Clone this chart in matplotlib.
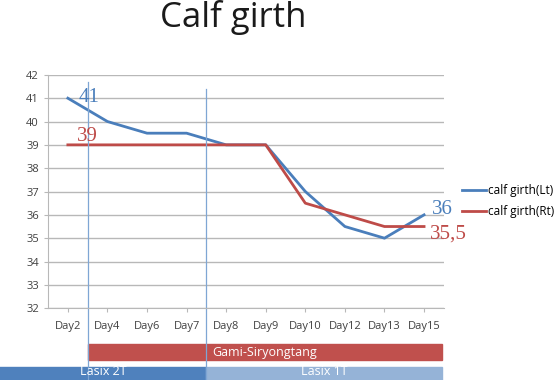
import matplotlib
matplotlib.use("Agg")
import matplotlib.pyplot as plt
import matplotlib.transforms as mtransforms

plt.rcParams['font.family'] = ['Open Sans', 'DejaVu Sans']

# data
days = ['Day2', 'Day4', 'Day6', 'Day7', 'Day8', 'Day9', 'Day10', 'Day12', 'Day13', 'Day15']
girth_lt = [41, 40, 39.5, 39.5, 39, 39, 37, 35.5, 35, 36]
girth_rt = [39, 39, 39, 39, 39, 39, 36.5, 36, 35.5, 35.5]
y_ticks = list(range(32, 43))

# treatment periods (start/end as category boundaries)
herb_label = 'Gami-Siryongtang'
herb_span = (0.5, 9.45)
lasix_labels = ['Lasix 2T', 'Lasix 1T']
lasix_spans = [(-2.0, 3.5), (3.5, 9.45)]
marks = [0.5, 3.5]

blue = '#4a7ebb'
red = '#be4b48'
serif = ['Liberation Serif', 'DejaVu Serif']

fig = plt.figure(figsize=(5.59, 3.80), dpi=100)
ax = fig.add_axes([0.086, 0.189, 0.708, 0.614])

x = list(range(len(days)))
ax.plot(x, girth_lt, color=blue, lw=2, label='calf girth(Lt)')
ax.plot(x, girth_rt, color=red, lw=2, label='calf girth(Rt)')

ax.set_xlim(-0.5, len(days) - 0.5)
ax.set_ylim(32, 42)
ax.set_yticks(y_ticks)
ax.set_xticks(x)
ax.set_xticklabels(days)
ax.yaxis.grid(True, color='#b8b8b8', lw=1)
ax.set_axisbelow(True)
for s in ['top', 'right']:
    ax.spines[s].set_visible(False)
for s in ['left', 'bottom']:
    ax.spines[s].set_color('#b8b8b8')
ax.tick_params(axis='both', labelsize=8, colors='#b8b8b8', labelcolor='#404040', length=3)
ax.tick_params(axis='x', pad=6)

# value labels
ax.text(0.26, 41.05, str(girth_lt[0]), color=blue, fontsize=15, family=serif, va='center', ha='left')
ax.text(0.24, 39.35, str(girth_rt[0]), color=red, fontsize=15, family=serif, va='center', ha='left')
ax.text(9.2, 36.25, str(girth_lt[-1]), color=blue, fontsize=15, family=serif, va='center', ha='left')
ax.text(9.15, 35.18, str(girth_rt[-1]).replace('.', ','), color=red, fontsize=15, family=serif, va='center', ha='left')

# treatment bars under the chart
trans = mtransforms.blended_transform_factory(ax.transData, ax.transAxes)
ax.add_patch(plt.Rectangle((herb_span[0], -0.223), herb_span[1] - herb_span[0], 0.068,
                           transform=trans, color='#c0504d', clip_on=False))
ax.text(sum(herb_span) / 2, -0.189, herb_label, transform=trans, color='white',
        fontsize=9, ha='center', va='center')
for (a, b), lab, c in zip(lasix_spans, lasix_labels, ['#4f81bd', '#95b3d7']):
    ax.add_patch(plt.Rectangle((a, -0.36), b - a, 0.107, transform=trans, color=c, clip_on=False))
    ax.text((max(a, -1.72) + b) / 2, -0.27, lab, transform=trans, color='white',
            fontsize=9, ha='center', va='center')

# start markers
for m, top in zip(marks, [0.97, 0.94]):
    ax.plot([m, m], [-0.36, top], transform=trans, color='#7fa6d4', lw=0.9, clip_on=False)

ax.legend(loc='center left', bbox_to_anchor=(1.02, 0.46), frameon=False, fontsize=8.5,
          handlelength=2.0, handletextpad=0.2, labelspacing=0.7)

fig.suptitle('Calf girth', x=0.418, y=1.0, fontsize=25, color='#1a1a1a')

plt.savefig('out.png', dpi=100)
